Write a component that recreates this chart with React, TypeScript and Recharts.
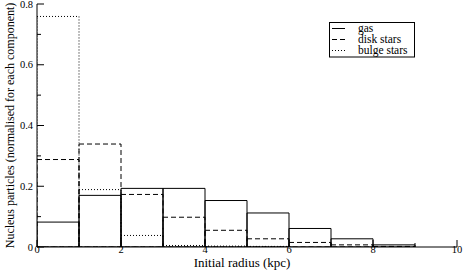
import React from 'react';
import {
  ComposedChart,
  Bar,
  XAxis,
  YAxis,
  Legend
} from 'recharts';

// bin centres (kpc), 1 kpc wide bins from 0 to 10
const radiusBins = [0.5, 1.5, 2.5, 3.5, 4.5, 5.5, 6.5, 7.5, 8.5, 9.5];
const gasValues = [0.082, 0.17, 0.193, 0.193, 0.153, 0.112, 0.061, 0.027, 0.007, 0];
const diskValues = [0.288, 0.339, 0.173, 0.098, 0.055, 0.027, 0.015, 0.007, 0.002, 0];
const bulgeValues = [0.759, 0.189, 0.038, 0.005, 0.003, 0.002, 0, 0, 0, 0];

const xTicks = [0, 1, 2, 3, 4, 5, 6, 7, 8, 9, 10];
const yTicks = [0, 0.1, 0.2, 0.3, 0.4, 0.5, 0.6, 0.7, 0.8];

const FONT = '"Liberation Serif", "Times New Roman", serif';
const MAJOR = 7;
const MINOR = 4;

// drawn back to front so the solid gas outline sits on top
const seriesList = [
  { key: 'bulge', name: 'bulge stars', dash: '1 2' },
  { key: 'disk', name: 'disk stars', dash: '5 3' },
  { key: 'gas', name: 'gas', dash: undefined as string | undefined }
];
const legendOrder = ['gas', 'disk', 'bulge'];

const data = radiusBins.map((r, i) => ({
  r,
  gas: gasValues[i],
  disk: diskValues[i],
  bulge: bulgeValues[i]
}));

const isMajorX = (v: number) => v % 2 === 0;
const isMajorY = (v: number) => Math.round(v * 10) % 2 === 0;

const BottomTick = (props: any) => {
  const { x, y, payload } = props;
  const v = payload.value;
  const len = isMajorX(v) ? MAJOR : MINOR;
  return (
    <g>
      <line x1={x} x2={x} y1={y} y2={y - len} stroke="#000" />
      {isMajorX(v) && (
        <text x={x} y={y + 5.5} textAnchor="middle" fontSize={10.5} fontFamily={FONT} fill="#000">
          {v}
        </text>
      )}
    </g>
  );
};

const TopTick = (props: any) => {
  const { x, y, payload } = props;
  const len = isMajorX(payload.value) ? MAJOR : MINOR;
  return <line x1={x} x2={x} y1={y} y2={y + len} stroke="#000" />;
};

const LeftTick = (props: any) => {
  const { x, y, payload } = props;
  const v = payload.value;
  const major = isMajorY(v);
  return (
    <g>
      <line x1={x} x2={x + (major ? MAJOR : MINOR)} y1={y} y2={y} stroke="#000" />
      {major && (
        <text x={x - 4} y={y} dy="0.35em" textAnchor="end" fontSize={10.5} fontFamily={FONT} fill="#000">
          {v === 0 ? '0' : v.toFixed(1)}
        </text>
      )}
    </g>
  );
};

const RightTick = (props: any) => {
  const { x, y, payload } = props;
  const len = isMajorY(payload.value) ? MAJOR : MINOR;
  return <line x1={x} x2={x - len} y1={y} y2={y} stroke="#000" />;
};

// legend drawn as a small svg so it uses the same text rendering as the axes
const LegendBox = () => (
  <svg width={87} height={36} style={{ display: 'block' }}>
    <rect x={0.5} y={0.5} width={85} height={34.5} fill="#fff" stroke="#000" />
    {legendOrder.map((key, i) => {
      const s = seriesList.find(item => item.key === key)!;
      const cy = 6.5 + i * 11;
      return (
        <g key={key}>
          <line x1={3} x2={16} y1={cy} y2={cy} stroke="#000" strokeDasharray={s.dash} />
          <text x={29} y={cy} dy="0.33em" fontSize={11.5} fontFamily={FONT} fill="#000">
            {s.name}
          </text>
        </g>
      );
    })}
  </svg>
);

const App: React.FC = () => {
  return (
    <div style={{ position: 'absolute', left: 0, top: 0, background: '#fff' }}>
      <ComposedChart
        width={463}
        height={273}
        data={data}
        margin={{ top: 4, right: 6, bottom: 0, left: 0 }}
        barCategoryGap={0}
        barGap="-100%"
      >
        <XAxis
          xAxisId="bottom"
          dataKey="r"
          type="number"
          domain={[0, 10]}
          ticks={xTicks}
          allowDataOverflow
          height={26}
          tickLine={false}
          tickSize={0}
          tickMargin={0}
          tick={<BottomTick />}
          interval={0}
          stroke="#000"
          label={{
            value: 'Initial radius (kpc)',
            position: 'insideBottom',
            offset: 6.5,
            dx: -5,
            style: { fontFamily: FONT, fontSize: 13, fill: '#000' }
          }}
        />
        <XAxis
          xAxisId="top"
          orientation="top"
          type="number"
          domain={[0, 10]}
          ticks={xTicks}
          allowDataOverflow
          height={0}
          tickLine={false}
          tickSize={0}
          tickMargin={0}
          tick={<TopTick />}
          interval={0}
          stroke="#000"
        />
        <YAxis
          yAxisId="left"
          type="number"
          domain={[0, 0.8]}
          ticks={yTicks}
          allowDataOverflow
          width={37}
          tickLine={false}
          tickSize={0}
          tickMargin={0}
          tick={<LeftTick />}
          interval={0}
          stroke="#000"
          label={{
            value: 'Nucleus particles (normalised for each component)',
            angle: -90,
            position: 'insideLeft',
            offset: 10,
            style: { textAnchor: 'middle', fontFamily: FONT, fontSize: 12, fill: '#000' }
          }}
        />
        <YAxis
          yAxisId="right"
          orientation="right"
          type="number"
          domain={[0, 0.8]}
          ticks={yTicks}
          allowDataOverflow
          width={0}
          tickLine={false}
          tickSize={0}
          tickMargin={0}
          tick={<RightTick />}
          interval={0}
          stroke="#000"
        />
        <Legend
          layout="vertical"
          align="center"
          verticalAlign="middle"
          content={<LegendBox />}
          wrapperStyle={{ left: 329, top: 22, width: 87, height: 36 }}
        />
        {seriesList.map(s => (
          <Bar
            key={s.key}
            xAxisId="bottom"
            yAxisId="left"
            dataKey={s.key}
            name={s.name}
            fill="none"
            stroke="#000"
            strokeWidth={1}
            strokeDasharray={s.dash}
            isAnimationActive={false}
          />
        ))}
      </ComposedChart>
    </div>
  );
};

export default App;
